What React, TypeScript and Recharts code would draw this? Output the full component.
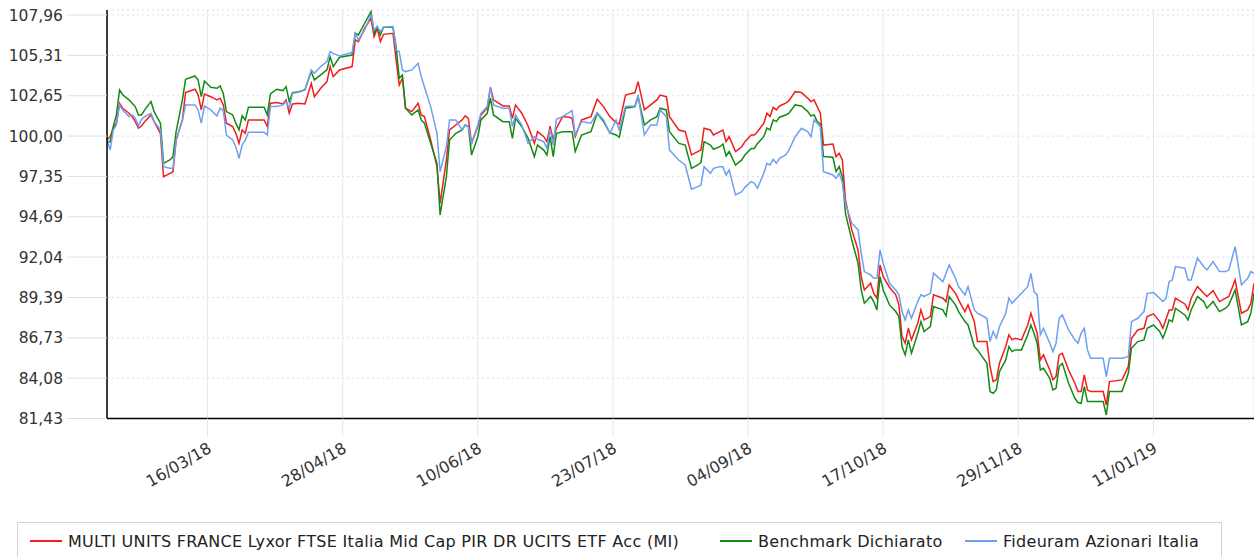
import React from "react";
import { LineChart, Line, XAxis, YAxis, CartesianGrid } from "recharts";

// days counted from 12/02/2018
const days = [
  0, 1, 2, 3, 4, 5, 7, 8, 9, 10, 11, 12, 14, 15, 17, 18, 20, 21, 22, 24, 25, 28, 29, 30, 31, 33, 35, 36, 37, 38, 40, 41, 42, 43, 44, 45, 50, 51, 52, 54, 56, 57, 58, 59, 61,
  63, 65, 66, 68, 70, 71, 72, 74, 78, 79, 80, 82, 84, 85, 86, 87, 88, 91, 92, 93, 94, 95, 97, 99, 100, 101, 103, 105, 106, 108, 109, 111, 113, 114, 115, 116, 118, 119, 121,
  122, 123, 126, 128, 129, 130, 132, 134, 136, 137, 139, 140, 141, 142, 143, 145, 147, 148, 149, 151, 154, 156, 158, 160, 162, 163, 165, 168, 169, 171, 173, 175, 176, 178, 179, 182,
  184, 186, 188, 189, 190, 192, 193, 195, 196, 197, 198, 200, 202, 203, 205, 206, 207, 209, 210, 211, 212, 213, 214, 216, 217, 219, 221, 223, 224, 225, 226, 227, 228, 231, 232, 233, 234, 235, 237, 239, 240, 241, 243,
  244, 245, 246, 247, 249, 251, 252, 253, 254, 255, 256, 258, 259, 260, 262, 263, 266, 267, 268, 270, 271, 273, 274, 276, 277, 280, 281, 282, 283, 284, 286, 287, 288, 289, 291, 293, 294, 295, 296, 297, 298, 300, 301, 302, 303,
  304, 306, 308, 309, 310, 311, 312, 313, 317, 318, 319, 323, 325, 326, 328, 330, 331, 333, 335, 336, 337, 338, 339, 340, 343, 344, 345, 347, 349, 350, 352, 354, 356, 357, 359, 361, 363, 364, 365,
];

const fund = [
  99.74, 99.96, 100.52, 100.85, 102.16, 101.83, 101.5, 101.28, 100.95, 100.52, 100.66, 100.95, 101.39, 100.95, 100.18, 97.33, 97.55, 97.66, 99.74, 101.06, 102.86, 103.08, 102.71, 101.72, 102.77, 102.59, 102.38, 102.49, 102.05, 100.85, 100.63, 100.18, 99.52, 100.4, 100.18, 101.06, 101.06, 100.63, 102.16, 102.2, 102.11, 102.38, 101.5, 102.11, 102.16,
  102.11, 103.47, 102.59, 103.14, 103.58, 104.57, 103.91, 104.35, 104.57, 106.32, 106.21, 107.09, 107.74, 106.54, 107.09, 106.21, 106.69, 106.76, 105.01, 103.36, 103.8, 101.83, 101.61, 102.16, 101.39, 101.28, 99.74, 97.99, 95.58, 98.43, 100.4, 100.73, 101.06, 101.33, 101.17, 99.52, 100.63, 101.39, 101.83,
  103.21, 102.38, 101.98, 101.98, 101.17, 102.05, 101.5, 100.66, 99.52, 100.29, 99.96, 99.63, 100.66, 99.74, 100.52, 101.28, 101.24, 101.17, 99.96, 101.06, 101.28, 102.42, 101.94, 101.28, 100.89, 100.8, 102.7, 102.86, 103.58, 101.72, 102.05, 102.38, 102.7, 102.59, 101.28, 100.4,
  100.29, 98.76, 98.98, 99.08, 100.52, 100.4, 100.07, 100.29, 100.4, 99.63, 99.96, 98.98, 99.3, 99.63, 100.07, 100.07, 100.29, 100.84, 101.5, 101.28, 101.89, 101.72, 101.98, 102.16, 102.33, 102.92, 102.86, 102.49, 102.27, 102.38, 101.94, 101.5, 99.41, 99.48, 98.65, 98.87, 98.43, 95.8, 93.83, 92.51, 90.76, 89.88, 90.32,
  89.66, 89.34, 91.53, 90.76, 90.06, 89.56, 88.9, 86.82, 86.38, 87.36, 86.6, 87.69, 88.57, 87.91, 88.13, 89.56, 89.34, 89.12, 90.21, 89.66, 89.23, 88.46, 88.9, 87.8, 86.49, 86.49, 84.85, 83.86, 83.97, 85.06, 86.16, 86.93, 86.6, 86.71, 86.6, 87.58, 88.35, 87.69, 87.04, 85.28, 85.61, 84.62, 83.97, 84.19, 85.61,
  85.72, 84.62, 83.75, 83.2, 83.2, 84.3, 83.31, 83.2, 83.2, 82.32, 83.86, 83.97, 84.85, 86.71, 87.25, 87.36, 88.13, 88.31, 87.8, 87.36, 87.96, 88.57, 88.57, 89.34, 88.96, 88.57, 89.34, 90.1, 89.66, 89.45, 89.84, 89.12, 89.34, 89.45, 90.54, 88.35, 88.57, 89.01, 90.32,
];

const benchmark = [
  99.63, 99.63, 100.63, 101.39, 103.04, 102.71, 102.38, 102.16, 101.94, 101.39, 101.39, 101.72, 102.27, 101.61, 100.85, 98.21, 98.43, 98.65, 100.29, 102.38, 103.73, 103.95, 103.69, 102.59, 103.62, 103.21, 103.14, 103.3, 102.81, 101.61, 101.39, 100.85, 100.4, 101.33, 101.06, 101.89, 101.89, 101.39, 102.77, 103.08, 102.99, 103.25, 102.27, 102.86, 102.92,
  103.04, 104.24, 103.69, 104.02, 104.35, 105.22, 104.57, 105.18, 105.33, 106.76, 106.65, 107.42, 108.18, 106.76, 107.2, 106.65, 107.15, 107.15, 105.88, 103.8, 104.02, 101.83, 101.39, 101.72, 101.06, 100.85, 99.52, 98.21, 94.82, 97.33, 99.74, 100.18, 100.4, 100.73, 100.63, 98.76, 99.96, 101.06, 101.5,
  102.49, 101.39, 100.95, 100.95, 99.85, 101.17, 100.63, 99.85, 98.65, 99.41, 99.08, 98.76, 99.96, 98.65, 100.18, 100.29, 100.29, 100.29, 98.98, 100.07, 100.29, 101.5, 100.95, 100.23, 100.07, 99.92, 101.83, 101.94, 102.59, 100.73, 101.06, 101.28, 101.83, 101.72, 100.29, 99.52,
  99.41, 97.88, 98.1, 98.26, 99.63, 99.41, 99.13, 99.3, 99.48, 98.69, 98.98, 98.1, 98.43, 98.76, 99.19, 99.19, 99.52, 99.96, 100.52, 100.4, 101.06, 100.95, 101.24, 101.39, 101.5, 102.05, 101.98, 101.61, 101.33, 101.39, 100.95, 100.8, 98.65, 98.61, 97.66, 97.99, 97.33, 94.92, 93.17, 91.64, 89.88, 89.01, 89.45,
  89.12, 88.57, 90.76, 89.88, 88.9, 88.46, 88.13, 86.16, 85.61, 86.6, 85.72, 87.04, 87.8, 87.15, 87.47, 88.79, 88.57, 88.17, 89.45, 88.9, 88.46, 87.8, 87.58, 86.16, 85.94, 85.06, 83.2, 83.09, 83.31, 84.51, 85.28, 86.16, 85.83, 85.94, 85.94, 86.93, 87.58, 87.04, 86.38, 84.62, 84.73, 84.08, 83.31, 83.42, 84.85,
  85.06, 83.75, 82.76, 82.48, 82.43, 83.53, 82.54, 82.54, 82.54, 81.66, 83.2, 83.2, 84.4, 86.05, 86.49, 86.6, 87.36, 87.58, 87.15, 86.71, 87.25, 87.91, 87.8, 88.68, 88.24, 87.91, 88.57, 89.45, 89.12, 88.68, 89.12, 88.46, 88.68, 88.9, 89.88, 87.58, 87.8, 88.35, 89.66,
];

const category = [
  99.74, 99.08, 100.4, 100.74, 102.05, 101.72, 101.28, 101.39, 101.17, 100.66, 101.1, 101.28, 101.5, 100.95, 100.4, 97.99, 97.88, 97.88, 99.74, 101.06, 102.05, 102.05, 101.72, 100.85, 101.98, 101.72, 101.33, 101.83, 101.68, 100.07, 99.74, 99.3, 98.54, 99.41, 99.74, 100.25, 100.25, 100.07, 101.94, 101.94, 102.05, 102.27, 101.83, 102.81, 102.88,
  103.04, 104.35, 104.13, 104.57, 104.9, 105.55, 105.44, 105.27, 105.49, 106.76, 106.32, 106.98, 107.96, 106.98, 107.2, 106.87, 107.15, 107.2, 105.66, 105.55, 104.35, 104.24, 104.35, 104.79, 103.91, 103.25, 101.94, 100.18, 97.66, 99.3, 101.06, 101.06, 100.4, 100.73, 100.63, 99.52, 100.73, 101.5, 101.94,
  103.21, 102.05, 101.83, 101.83, 100.63, 101.39, 100.73, 99.52, 99.96, 99.79, 99.63, 99.19, 100.45, 99.41, 101.1, 101.28, 101.54, 101.68, 100.07, 100.95, 100.85, 101.54, 101.06, 100.18, 101.06, 100.4, 101.94, 101.98, 102.7, 100.07, 100.73, 100.73, 101.72, 101.28, 99.08, 98.41,
  98.1, 96.5, 96.68, 96.79, 97.99, 97.55, 97.88, 97.99, 97.99, 97.44, 97.77, 96.13, 96.35, 96.63, 97.01, 96.9, 96.57, 97.55, 98.21, 98.1, 98.47, 98.21, 98.54, 98.76, 99.08, 99.96, 100.51, 100.29, 99.96, 101.06, 100.84, 100.62, 97.66, 97.44, 97.22, 97.55, 96.94, 95.58, 94.27, 93.83, 92.29, 91.09, 90.87,
  90.65, 90.65, 92.51, 91.64, 90.32, 89.88, 89.56, 88.46, 87.91, 88.57, 88.02, 89.12, 89.56, 89.45, 89.66, 90.98, 90.43, 90.98, 91.53, 90.65, 90.1, 89.56, 90.1, 88.57, 88.35, 88.02, 86.49, 87.15, 86.71, 87.47, 88.35, 89.34, 89.01, 89.23, 89.66, 90.1, 90.98, 89.77, 89.56, 86.93, 87.36, 86.38, 85.83, 86.38, 88.02,
  88.24, 87.25, 86.6, 86.38, 87.04, 87.36, 85.94, 85.39, 85.39, 84.19, 85.39, 85.39, 85.5, 87.8, 88.02, 88.46, 89.66, 89.71, 89.34, 89.12, 89.34, 90.43, 90.54, 91.42, 91.31, 90.54, 90.54, 91.97, 91.42, 91.2, 91.75, 91.09, 91.09, 91.2, 92.73, 90.21, 90.65, 91.09, 90.98,
];

const xTicks = [32, 75, 118, 161, 204, 247, 290, 333];
const xTickLabels = ["16/03/18", "28/04/18", "10/06/18", "23/07/18", "04/09/18", "17/10/18", "29/11/18", "11/01/19"];
const yTicks = [81.43, 84.08, 86.73, 89.39, 92.04, 94.69, 97.35, 100.0, 102.65, 105.31, 107.96];

const seriesNames = [
  "MULTI UNITS FRANCE Lyxor FTSE Italia Mid Cap PIR DR UCITS ETF Acc (MI)",
  "Benchmark Dichiarato",
  "Fideuram Azionari Italia",
];
const colors = ["#f21d1d", "#138a13", "#6f9ff0"];

const data = days.map((d, i) => ({
  day: d,
  fund: fund[i],
  benchmark: benchmark[i],
  category: category[i],
}));

const FONT = "DejaVu Sans, Verdana, sans-serif";

const XTick = (props: any) => {
  const { x, y, payload } = props;
  const label = xTickLabels[xTicks.indexOf(payload.value)] ?? "";
  return (
    <text
      x={x + 5}
      y={y + 15}
      textAnchor="end"
      fill="#333"
      fontSize={16}
      fontFamily={FONT}
      transform={`rotate(-30, ${x + 5}, ${y + 15})`}
    >
      {label}
    </text>
  );
};

export default function App() {
  const legendLeft = [30, 720, 965];
  return (
    <div
      style={{
        position: "fixed",
        left: 0,
        top: 0,
        width: 1254,
        height: 557,
        overflow: "hidden",
        background: "#fff",
        fontFamily: FONT,
      }}
    >
      <LineChart width={1254} height={500} data={data} margin={{ top: 10, right: 0, left: 0, bottom: 0 }}>
        <CartesianGrid vertical={false} stroke="#d3e0f2" strokeDasharray="2 3" />
        <CartesianGrid horizontal={false} stroke="#dfe9f6" />
        <XAxis
          dataKey="day"
          type="number"
          domain={[0, 365]}
          ticks={xTicks}
          interval={0}
          height={81.5}
          tickSize={18}
          tickMargin={0}
          tickLine={{ stroke: "#dfe9f6" }}
          axisLine={{ stroke: "#000", strokeWidth: 1.5 }}
          tick={<XTick />}
        />
        <YAxis
          type="number"
          domain={[81.43, 108.29]}
          ticks={yTicks}
          interval={0}
          width={107}
          tickSize={40}
          tickMargin={4}
          tickLine={{ stroke: "#d3e0f2" }}
          axisLine={{ stroke: "#000", strokeWidth: 1.5 }}
          tick={{ fill: "#333", fontSize: 15.5, fontFamily: FONT }}
          tickFormatter={(v: number) => v.toFixed(2).replace(".", ",")}
        />
        <Line type="linear" dataKey="fund" stroke={colors[0]} strokeWidth={1.5} dot={false} isAnimationActive={false} />
        <Line type="linear" dataKey="benchmark" stroke={colors[1]} strokeWidth={1.5} dot={false} isAnimationActive={false} />
        <Line type="linear" dataKey="category" stroke={colors[2]} strokeWidth={1.5} dot={false} isAnimationActive={false} />
      </LineChart>
      <div
        style={{
          position: "absolute",
          left: 17,
          top: 522,
          width: 1205,
          height: 45,
          border: "1px solid #d4d4d4",
          boxSizing: "border-box",
        }}
      />
      {seriesNames.map((name, i) => (
        <div
          key={name}
          style={{
            position: "absolute",
            left: legendLeft[i],
            top: 530,
            height: 22,
            display: "flex",
            alignItems: "center",
            whiteSpace: "nowrap",
            fontSize: 16,
            letterSpacing: 0.3,
            color: "#222",
          }}
        >
          <span style={{ display: "inline-block", width: 32, height: 2, background: colors[i], marginRight: 6 }} />
          <span>{name}</span>
        </div>
      ))}
    </div>
  );
}
